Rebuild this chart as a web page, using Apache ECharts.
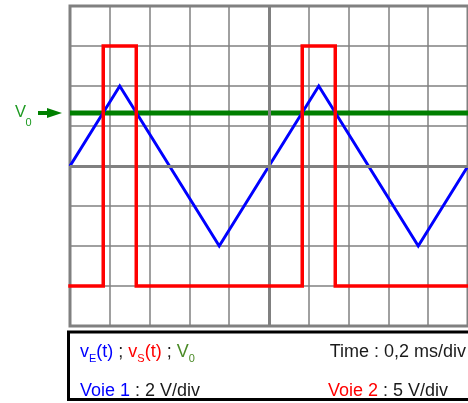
<!DOCTYPE html>
<html>
<head>
<meta charset="utf-8">
<script src="https://cdn.jsdelivr.net/npm/echarts@6/dist/echarts.min.js"></script>
<style>
html,body{margin:0;padding:0;background:#fff;}
#chart{width:468px;height:403px;}
</style>
</head>
<body>
<div id="chart"></div>
<script>
// Oscilloscope screen: 0.2 ms/div (10 div), channel 1: 2 V/div, channel 2: 5 V/div (8 div)
const timeMin = 0, timeMax = 2, timeStep = 0.2;          // ms
const ch1Min = -8, ch1Max = 8, ch1Step = 2;               // V (2 V/div)
const ch2Min = -20, ch2Max = 20, ch2Step = 5;             // V (5 V/div)

// vE(t): triangle wave (channel 1)
const vETime  = [0, 0.25, 0.75, 1.25, 1.75, 2.0];
const vEVolts = [0, 4, -4, 4, -4, 0];

// vS(t): square pulses (channel 2)
const vSTime  = [0, 0.167, 0.167, 0.333, 0.333, 1.167, 1.167, 1.333, 1.333, 2.0];
const vSVolts = [-15, -15, 15, 15, -15, -15, 15, 15, -15, -15];

// V0: constant threshold (channel 1)
const v0Time  = [0, 2.0];
const v0Volts = [2.65, 2.65];

// Screen centre lines
const centreTime = 1;
const centreVolts = 0;

const FONT = 'Liberation Sans, Arial, sans-serif';
const GRAY = '#808080';
const FS = 18;

const zip = (a, b) => a.map((v, i) => [v, b[i]]);

const chart = echarts.init(document.getElementById('chart'), null, {renderer: 'canvas'});

const mainTok = (color, size, lh) => ({fill: color, fontSize: size, fontFamily: FONT, lineHeight: lh, verticalAlign: 'middle'});
const subTok = (color, size) => ({fill: color, fontSize: size, fontFamily: FONT, lineHeight: size, verticalAlign: 'bottom'});

const option = {
  backgroundColor: '#ffffff',
  animation: false,
  grid: {
    left: 70, top: 6, width: 400, height: 320,
    show: true, borderColor: GRAY, borderWidth: 3, backgroundColor: 'transparent'
  },
  xAxis: {
    type: 'value', min: timeMin, max: timeMax, interval: timeStep,
    axisLine: {show: false}, axisTick: {show: false}, axisLabel: {show: false},
    splitLine: {show: true, lineStyle: {color: GRAY, width: 1.5}}
  },
  yAxis: [
    {
      type: 'value', min: ch1Min, max: ch1Max, interval: ch1Step,
      axisLine: {show: false}, axisTick: {show: false}, axisLabel: {show: false},
      splitLine: {show: true, lineStyle: {color: GRAY, width: 1.5}}
    },
    {
      type: 'value', min: ch2Min, max: ch2Max, interval: ch2Step, position: 'right',
      axisLine: {show: false}, axisTick: {show: false}, axisLabel: {show: false},
      splitLine: {show: false}
    }
  ],
  series: [
    {
      type: 'line', data: [], z: 1, silent: true,
      markLine: {
        silent: true, symbol: ['none', 'none'], label: {show: false},
        lineStyle: {color: GRAY, width: 3, type: 'solid'},
        animation: false,
        data: [{xAxis: centreTime}, {yAxis: centreVolts}]
      }
    },
    {
      name: 'V0', type: 'line', yAxisIndex: 0, z: 3,
      data: zip(v0Time, v0Volts), showSymbol: false,
      lineStyle: {color: '#007f00', width: 5}
    },
    {
      name: 'vE', type: 'line', yAxisIndex: 0, z: 4,
      data: zip(vETime, vEVolts), showSymbol: false,
      lineStyle: {color: '#0000ff', width: 3, join: 'miter', miterLimit: 10}
    },
    {
      name: 'vS', type: 'line', yAxisIndex: 1, z: 5,
      data: zip(vSTime, vSVolts), showSymbol: false,
      lineStyle: {color: '#ff0000', width: 3.5, join: 'miter', miterLimit: 10, cap: 'square'}
    }
  ],
  graphic: [
    // V0 label + arrow on the left
    {
      type: 'text', x: 15, y: 112, z: 10,
      style: {text: 'V', fill: '#1e9a22', font: '16.5px ' + FONT, verticalAlign: 'middle', align: 'left'}
    },
    {
      type: 'text', x: 25.5, y: 122.5, z: 10,
      style: {text: '0', fill: '#1e9a22', font: '11px ' + FONT, verticalAlign: 'middle', align: 'left'}
    },
    {
      type: 'line', z: 10,
      shape: {x1: 38, y1: 113, x2: 52, y2: 113},
      style: {stroke: '#008000', lineWidth: 4}
    },
    {
      type: 'polygon', z: 10,
      shape: {points: [[47, 108], [62, 113], [47, 118]]},
      style: {fill: '#008000'}
    },
    // info box
    {
      type: 'rect', z: 10,
      shape: {x: 68.5, y: 332, width: 420, height: 67.5},
      style: {fill: '#ffffff', stroke: '#000000', lineWidth: 3}
    },
    {
      type: 'text', x: 80, y: 352, z: 11,
      style: {
        text: '{b|v}{bs|E}{b|(t)}{k| ; }{r|v}{rs|S}{r|(t)}{k| ; }{g|V}{gs|0}',
        verticalAlign: 'middle', align: 'left',
        rich: {
          b: mainTok('#0000ff', FS, 24),
          bs: subTok('#0000ff', 11),
          r: mainTok('#ff0000', FS, 24),
          rs: subTok('#ff0000', 11),
          k: mainTok('#1a1a1a', FS, 24),
          g: mainTok('#4a8a26', FS, 24),
          gs: subTok('#4a8a26', 11)
        }
      }
    },
    {
      type: 'text', x: 466, y: 352, z: 11,
      style: {
        text: 'Time : 0,2 ms/div', align: 'right', verticalAlign: 'middle',
        fill: '#1a1a1a', font: FS + 'px ' + FONT
      }
    },
    {
      type: 'text', x: 80, y: 391, z: 11,
      style: {
        text: '{b|Voie 1}{k| : 2 V/div}', align: 'left', verticalAlign: 'middle',
        rich: {
          b: mainTok('#0000ff', FS, 24),
          k: mainTok('#1a1a1a', FS, 24)
        }
      }
    },
    {
      type: 'text', x: 328, y: 391, z: 11,
      style: {
        text: '{r|Voie 2}{k| : 5 V/div}', align: 'left', verticalAlign: 'middle',
        rich: {
          r: mainTok('#ff0000', FS, 24),
          k: mainTok('#1a1a1a', FS, 24)
        }
      }
    }
  ]
};

chart.setOption(option);
</script>
</body>
</html>
